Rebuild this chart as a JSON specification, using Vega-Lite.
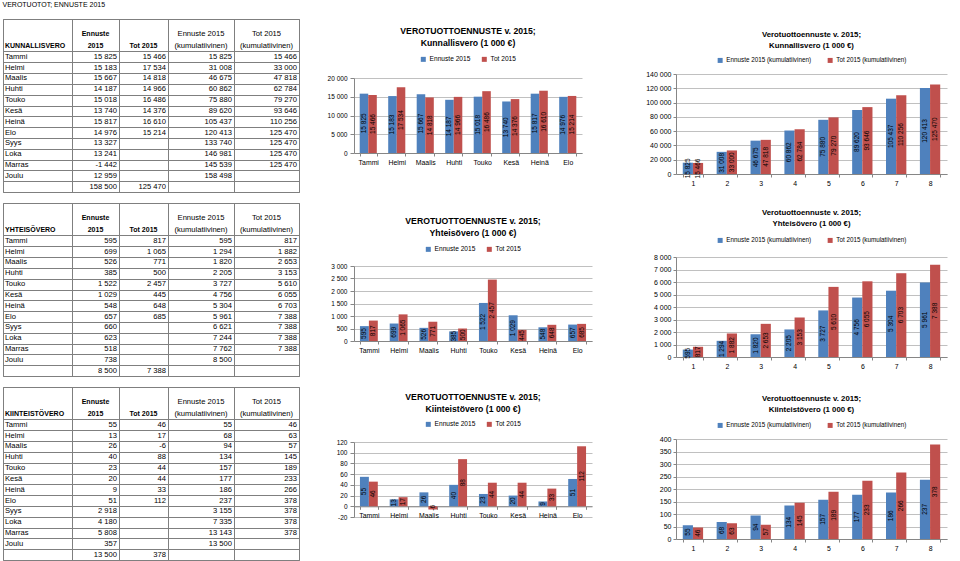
{
  "$schema": "https://vega.github.io/schema/vega-lite/v6.json",
  "padding": {"left": 2, "top": 1, "right": 2, "bottom": 0},
  "title": {"text": "VEROTUOTOT; ENNUSTE 2015", "anchor": "start", "fontSize": 7, "fontWeight": "normal", "offset": 0, "frame": "bounds"},
  "datasets": {
    "K": [
      {"r": 0, "m": "Tammi", "e": 15825, "t": 15466, "ek": 15825, "tk": 15466},
      {"r": 1, "m": "Helmi", "e": 15183, "t": 17534, "ek": 31008, "tk": 33000},
      {"r": 2, "m": "Maalis", "e": 15667, "t": 14818, "ek": 46675, "tk": 47818},
      {"r": 3, "m": "Huhti", "e": 14187, "t": 14966, "ek": 60862, "tk": 62784},
      {"r": 4, "m": "Touko", "e": 15018, "t": 16486, "ek": 75880, "tk": 79270},
      {"r": 5, "m": "Kesä", "e": 13740, "t": 14376, "ek": 89620, "tk": 93646},
      {"r": 6, "m": "Heinä", "e": 15817, "t": 16610, "ek": 105437, "tk": 110256},
      {"r": 7, "m": "Elo", "e": 14976, "t": 15214, "ek": 120413, "tk": 125470},
      {"r": 8, "m": "Syys", "e": 13327, "t": null, "ek": 133740, "tk": 125470},
      {"r": 9, "m": "Loka", "e": 13241, "t": null, "ek": 146981, "tk": 125470},
      {"r": 10, "m": "Marras", "e": -1442, "t": null, "ek": 145539, "tk": 125470},
      {"r": 11, "m": "Joulu", "e": 12959, "t": null, "ek": 158498, "tk": null},
      {"r": 12, "m": "", "e": 158500, "t": 125470, "ek": null, "tk": null}
    ],
    "Y": [
      {"r": 0, "m": "Tammi", "e": 595, "t": 817, "ek": 595, "tk": 817},
      {"r": 1, "m": "Helmi", "e": 699, "t": 1065, "ek": 1294, "tk": 1882},
      {"r": 2, "m": "Maalis", "e": 526, "t": 771, "ek": 1820, "tk": 2653},
      {"r": 3, "m": "Huhti", "e": 385, "t": 500, "ek": 2205, "tk": 3153},
      {"r": 4, "m": "Touko", "e": 1522, "t": 2457, "ek": 3727, "tk": 5610},
      {"r": 5, "m": "Kesä", "e": 1029, "t": 445, "ek": 4756, "tk": 6055},
      {"r": 6, "m": "Heinä", "e": 548, "t": 648, "ek": 5304, "tk": 6703},
      {"r": 7, "m": "Elo", "e": 657, "t": 685, "ek": 5961, "tk": 7388},
      {"r": 8, "m": "Syys", "e": 660, "t": null, "ek": 6621, "tk": 7388},
      {"r": 9, "m": "Loka", "e": 623, "t": null, "ek": 7244, "tk": 7388},
      {"r": 10, "m": "Marras", "e": 518, "t": null, "ek": 7762, "tk": 7388},
      {"r": 11, "m": "Joulu", "e": 738, "t": null, "ek": 8500, "tk": null},
      {"r": 12, "m": "", "e": 8500, "t": 7388, "ek": null, "tk": null}
    ],
    "KI": [
      {"r": 0, "m": "Tammi", "e": 55, "t": 46, "ek": 55, "tk": 46},
      {"r": 1, "m": "Helmi", "e": 13, "t": 17, "ek": 68, "tk": 63},
      {"r": 2, "m": "Maalis", "e": 26, "t": -6, "ek": 94, "tk": 57},
      {"r": 3, "m": "Huhti", "e": 40, "t": 88, "ek": 134, "tk": 145},
      {"r": 4, "m": "Touko", "e": 23, "t": 44, "ek": 157, "tk": 189},
      {"r": 5, "m": "Kesä", "e": 20, "t": 44, "ek": 177, "tk": 233},
      {"r": 6, "m": "Heinä", "e": 9, "t": 33, "ek": 186, "tk": 266},
      {"r": 7, "m": "Elo", "e": 51, "t": 112, "ek": 237, "tk": 378},
      {"r": 8, "m": "Syys", "e": 2918, "t": null, "ek": 3155, "tk": 378},
      {"r": 9, "m": "Loka", "e": 4180, "t": null, "ek": 7335, "tk": 378},
      {"r": 10, "m": "Marras", "e": 5808, "t": null, "ek": 13143, "tk": 378},
      {"r": 11, "m": "Joulu", "e": 357, "t": null, "ek": 13500, "tk": null},
      {"r": 12, "m": "", "e": 13500, "t": 378, "ek": null, "tk": null}
    ],
    "hK": [{"h": "KUNNALLISVERO"}],
    "hY": [{"h": "YHTEISÖVERO"}],
    "hKI": [{"h": "KIINTEISTÖVERO"}],
    "h1": [{"h": "Ennuste\n2015"}],
    "h2": [{"h": "Tot 2015"}],
    "h3": [{"h": "Ennuste 2015\n(kumulatiivinen)"}],
    "h4": [{"h": "Tot 2015\n(kumulatiivinen)"}],
    "none": []
  },
  "spacing": 27,
  "resolve": {"scale": {"color": "independent", "xOffset": "independent"}},
  "hconcat": [
    {
      "spacing": 9,
      "vconcat": [
        {"width": 10, "height": 1, "data": {"name": "none"}, "mark": "point", "encoding": {}},
        {
          "width": 296, "height": 173,
          "view": {"stroke": "#7f7f7f"},
          "data": {"name": "K"},
          "layer": [
            {"mark": {"type": "text", "align": "left", "baseline": "middle", "dx": 2, "dy": 5.4, "fontSize": 7.6},
             "encoding": {
               "x": {"datum": -1, "type": "quantitative", "scale": {"domain": [-1, 0, 1, 2, 3, 4], "range": [0, 69, 116, 165, 231, 296], "nice": false, "zero": false}, "axis": {"orient": "top", "values": [-1, 0, 1, 2, 3, 4], "tickCount": 100, "grid": true, "gridColor": "#7f7f7f", "gridOpacity": 1, "gridWidth": 1, "labels": false, "ticks": false, "domain": false, "title": null}},
               "y": {"field": "r", "type": "quantitative", "scale": {"domain": [-3, 13], "reverse": true, "nice": false, "zero": false}, "axis": {"values": [-3, 0, 1, 2, 3, 4, 5, 6, 7, 8, 9, 10, 11, 12, 13], "tickCount": 100, "grid": true, "gridColor": "#7f7f7f", "gridOpacity": 1, "gridWidth": 1, "labels": false, "ticks": false, "domain": false, "title": null}},
               "text": {"field": "m", "type": "nominal"}}},
            {"transform": [{"filter": "isValid(datum.e)"}], "mark": {"type": "text", "align": "right", "baseline": "middle", "dx": -2, "dy": 5.4, "fontSize": 7.6},
             "encoding": {"x": {"datum": 1, "type": "quantitative"}, "y": {"field": "r", "type": "quantitative"}, "text": {"field": "e", "type": "quantitative", "format": ",d"}}},
            {"transform": [{"filter": "isValid(datum.t)"}], "mark": {"type": "text", "align": "right", "baseline": "middle", "dx": -2, "dy": 5.4, "fontSize": 7.6},
             "encoding": {"x": {"datum": 2, "type": "quantitative"}, "y": {"field": "r", "type": "quantitative"}, "text": {"field": "t", "type": "quantitative", "format": ",d"}}},
            {"transform": [{"filter": "isValid(datum.ek)"}], "mark": {"type": "text", "align": "right", "baseline": "middle", "dx": -2, "dy": 5.4, "fontSize": 7.6},
             "encoding": {"x": {"datum": 3, "type": "quantitative"}, "y": {"field": "r", "type": "quantitative"}, "text": {"field": "ek", "type": "quantitative", "format": ",d"}}},
            {"transform": [{"filter": "isValid(datum.tk)"}], "mark": {"type": "text", "align": "right", "baseline": "middle", "dx": -2, "dy": 5.4, "fontSize": 7.6},
             "encoding": {"x": {"datum": 4, "type": "quantitative"}, "y": {"field": "r", "type": "quantitative"}, "text": {"field": "tk", "type": "quantitative", "format": ",d"}}},
            {"data": {"name": "hK"}, "mark": {"type": "text", "align": "left", "baseline": "middle", "dx": 2, "fontSize": 7, "fontWeight": "bold"},
             "encoding": {"x": {"datum": -1, "type": "quantitative"}, "y": {"datum": -0.5, "type": "quantitative"}, "text": {"field": "h", "type": "nominal"}}},
            {"data": {"name": "h1"}, "mark": {"type": "text", "align": "center", "baseline": "middle", "fontSize": 7, "fontWeight": "bold", "lineBreak": "\n", "lineHeight": 12},
             "encoding": {"x": {"datum": 0.5, "type": "quantitative"}, "y": {"datum": -1.6, "type": "quantitative"}, "text": {"field": "h", "type": "nominal"}}},
            {"data": {"name": "h2"}, "mark": {"type": "text", "align": "center", "baseline": "middle", "fontSize": 7, "fontWeight": "bold"},
             "encoding": {"x": {"datum": 1.5, "type": "quantitative"}, "y": {"datum": -0.5, "type": "quantitative"}, "text": {"field": "h", "type": "nominal"}}},
            {"data": {"name": "h3"}, "mark": {"type": "text", "align": "center", "baseline": "middle", "fontSize": 7.6, "lineBreak": "\n", "lineHeight": 12},
             "encoding": {"x": {"datum": 2.5, "type": "quantitative"}, "y": {"datum": -1.6, "type": "quantitative"}, "text": {"field": "h", "type": "nominal"}}},
            {"data": {"name": "h4"}, "mark": {"type": "text", "align": "center", "baseline": "middle", "fontSize": 7.6, "lineBreak": "\n", "lineHeight": 12},
             "encoding": {"x": {"datum": 3.5, "type": "quantitative"}, "y": {"datum": -1.6, "type": "quantitative"}, "text": {"field": "h", "type": "nominal"}}}
          ]
        },
        {
          "width": 296, "height": 173,
          "view": {"stroke": "#7f7f7f"},
          "data": {"name": "Y"},
          "layer": [
            {"mark": {"type": "text", "align": "left", "baseline": "middle", "dx": 2, "dy": 5.4, "fontSize": 7.6},
             "encoding": {
               "x": {"datum": -1, "type": "quantitative", "scale": {"domain": [-1, 0, 1, 2, 3, 4], "range": [0, 69, 116, 165, 231, 296], "nice": false, "zero": false}, "axis": {"orient": "top", "values": [-1, 0, 1, 2, 3, 4], "tickCount": 100, "grid": true, "gridColor": "#7f7f7f", "gridOpacity": 1, "gridWidth": 1, "labels": false, "ticks": false, "domain": false, "title": null}},
               "y": {"field": "r", "type": "quantitative", "scale": {"domain": [-3, 13], "reverse": true, "nice": false, "zero": false}, "axis": {"values": [-3, 0, 1, 2, 3, 4, 5, 6, 7, 8, 9, 10, 11, 12, 13], "tickCount": 100, "grid": true, "gridColor": "#7f7f7f", "gridOpacity": 1, "gridWidth": 1, "labels": false, "ticks": false, "domain": false, "title": null}},
               "text": {"field": "m", "type": "nominal"}}},
            {"transform": [{"filter": "isValid(datum.e)"}], "mark": {"type": "text", "align": "right", "baseline": "middle", "dx": -2, "dy": 5.4, "fontSize": 7.6},
             "encoding": {"x": {"datum": 1, "type": "quantitative"}, "y": {"field": "r", "type": "quantitative"}, "text": {"field": "e", "type": "quantitative", "format": ",d"}}},
            {"transform": [{"filter": "isValid(datum.t)"}], "mark": {"type": "text", "align": "right", "baseline": "middle", "dx": -2, "dy": 5.4, "fontSize": 7.6},
             "encoding": {"x": {"datum": 2, "type": "quantitative"}, "y": {"field": "r", "type": "quantitative"}, "text": {"field": "t", "type": "quantitative", "format": ",d"}}},
            {"transform": [{"filter": "isValid(datum.ek)"}], "mark": {"type": "text", "align": "right", "baseline": "middle", "dx": -2, "dy": 5.4, "fontSize": 7.6},
             "encoding": {"x": {"datum": 3, "type": "quantitative"}, "y": {"field": "r", "type": "quantitative"}, "text": {"field": "ek", "type": "quantitative", "format": ",d"}}},
            {"transform": [{"filter": "isValid(datum.tk)"}], "mark": {"type": "text", "align": "right", "baseline": "middle", "dx": -2, "dy": 5.4, "fontSize": 7.6},
             "encoding": {"x": {"datum": 4, "type": "quantitative"}, "y": {"field": "r", "type": "quantitative"}, "text": {"field": "tk", "type": "quantitative", "format": ",d"}}},
            {"data": {"name": "hY"}, "mark": {"type": "text", "align": "left", "baseline": "middle", "dx": 2, "fontSize": 7, "fontWeight": "bold"},
             "encoding": {"x": {"datum": -1, "type": "quantitative"}, "y": {"datum": -0.5, "type": "quantitative"}, "text": {"field": "h", "type": "nominal"}}},
            {"data": {"name": "h1"}, "mark": {"type": "text", "align": "center", "baseline": "middle", "fontSize": 7, "fontWeight": "bold", "lineBreak": "\n", "lineHeight": 12},
             "encoding": {"x": {"datum": 0.5, "type": "quantitative"}, "y": {"datum": -1.6, "type": "quantitative"}, "text": {"field": "h", "type": "nominal"}}},
            {"data": {"name": "h2"}, "mark": {"type": "text", "align": "center", "baseline": "middle", "fontSize": 7, "fontWeight": "bold"},
             "encoding": {"x": {"datum": 1.5, "type": "quantitative"}, "y": {"datum": -0.5, "type": "quantitative"}, "text": {"field": "h", "type": "nominal"}}},
            {"data": {"name": "h3"}, "mark": {"type": "text", "align": "center", "baseline": "middle", "fontSize": 7.6, "lineBreak": "\n", "lineHeight": 12},
             "encoding": {"x": {"datum": 2.5, "type": "quantitative"}, "y": {"datum": -1.6, "type": "quantitative"}, "text": {"field": "h", "type": "nominal"}}},
            {"data": {"name": "h4"}, "mark": {"type": "text", "align": "center", "baseline": "middle", "fontSize": 7.6, "lineBreak": "\n", "lineHeight": 12},
             "encoding": {"x": {"datum": 3.5, "type": "quantitative"}, "y": {"datum": -1.6, "type": "quantitative"}, "text": {"field": "h", "type": "nominal"}}}
          ]
        },
        {
          "width": 296, "height": 173,
          "view": {"stroke": "#7f7f7f"},
          "data": {"name": "KI"},
          "layer": [
            {"mark": {"type": "text", "align": "left", "baseline": "middle", "dx": 2, "dy": 5.4, "fontSize": 7.6},
             "encoding": {
               "x": {"datum": -1, "type": "quantitative", "scale": {"domain": [-1, 0, 1, 2, 3, 4], "range": [0, 69, 116, 165, 231, 296], "nice": false, "zero": false}, "axis": {"orient": "top", "values": [-1, 0, 1, 2, 3, 4], "tickCount": 100, "grid": true, "gridColor": "#7f7f7f", "gridOpacity": 1, "gridWidth": 1, "labels": false, "ticks": false, "domain": false, "title": null}},
               "y": {"field": "r", "type": "quantitative", "scale": {"domain": [-3, 13], "reverse": true, "nice": false, "zero": false}, "axis": {"values": [-3, 0, 1, 2, 3, 4, 5, 6, 7, 8, 9, 10, 11, 12, 13], "tickCount": 100, "grid": true, "gridColor": "#7f7f7f", "gridOpacity": 1, "gridWidth": 1, "labels": false, "ticks": false, "domain": false, "title": null}},
               "text": {"field": "m", "type": "nominal"}}},
            {"transform": [{"filter": "isValid(datum.e)"}], "mark": {"type": "text", "align": "right", "baseline": "middle", "dx": -2, "dy": 5.4, "fontSize": 7.6},
             "encoding": {"x": {"datum": 1, "type": "quantitative"}, "y": {"field": "r", "type": "quantitative"}, "text": {"field": "e", "type": "quantitative", "format": ",d"}}},
            {"transform": [{"filter": "isValid(datum.t)"}], "mark": {"type": "text", "align": "right", "baseline": "middle", "dx": -2, "dy": 5.4, "fontSize": 7.6},
             "encoding": {"x": {"datum": 2, "type": "quantitative"}, "y": {"field": "r", "type": "quantitative"}, "text": {"field": "t", "type": "quantitative", "format": ",d"}}},
            {"transform": [{"filter": "isValid(datum.ek)"}], "mark": {"type": "text", "align": "right", "baseline": "middle", "dx": -2, "dy": 5.4, "fontSize": 7.6},
             "encoding": {"x": {"datum": 3, "type": "quantitative"}, "y": {"field": "r", "type": "quantitative"}, "text": {"field": "ek", "type": "quantitative", "format": ",d"}}},
            {"transform": [{"filter": "isValid(datum.tk)"}], "mark": {"type": "text", "align": "right", "baseline": "middle", "dx": -2, "dy": 5.4, "fontSize": 7.6},
             "encoding": {"x": {"datum": 4, "type": "quantitative"}, "y": {"field": "r", "type": "quantitative"}, "text": {"field": "tk", "type": "quantitative", "format": ",d"}}},
            {"data": {"name": "hKI"}, "mark": {"type": "text", "align": "left", "baseline": "middle", "dx": 2, "fontSize": 7, "fontWeight": "bold"},
             "encoding": {"x": {"datum": -1, "type": "quantitative"}, "y": {"datum": -0.5, "type": "quantitative"}, "text": {"field": "h", "type": "nominal"}}},
            {"data": {"name": "h1"}, "mark": {"type": "text", "align": "center", "baseline": "middle", "fontSize": 7, "fontWeight": "bold", "lineBreak": "\n", "lineHeight": 12},
             "encoding": {"x": {"datum": 0.5, "type": "quantitative"}, "y": {"datum": -1.6, "type": "quantitative"}, "text": {"field": "h", "type": "nominal"}}},
            {"data": {"name": "h2"}, "mark": {"type": "text", "align": "center", "baseline": "middle", "fontSize": 7, "fontWeight": "bold"},
             "encoding": {"x": {"datum": 1.5, "type": "quantitative"}, "y": {"datum": -0.5, "type": "quantitative"}, "text": {"field": "h", "type": "nominal"}}},
            {"data": {"name": "h3"}, "mark": {"type": "text", "align": "center", "baseline": "middle", "fontSize": 7.6, "lineBreak": "\n", "lineHeight": 12},
             "encoding": {"x": {"datum": 2.5, "type": "quantitative"}, "y": {"datum": -1.6, "type": "quantitative"}, "text": {"field": "h", "type": "nominal"}}},
            {"data": {"name": "h4"}, "mark": {"type": "text", "align": "center", "baseline": "middle", "fontSize": 7.6, "lineBreak": "\n", "lineHeight": 12},
             "encoding": {"x": {"datum": 3.5, "type": "quantitative"}, "y": {"datum": -1.6, "type": "quantitative"}, "text": {"field": "h", "type": "nominal"}}}
          ]
        }
      ]
    },
    {
      "spacing": 53,
      "resolve": {"scale": {"color": "independent", "xOffset": "independent"}},
      "hconcat": [
        {
          "spacing": 52,
          "resolve": {"scale": {"color": "independent", "xOffset": "independent"}},
          "vconcat": [
            {
              "spacing": 18,
              "resolve": {"scale": {"color": "independent", "xOffset": "independent"}},
              "vconcat": [
                {"width": 10, "height": 1, "data": {"name": "none"}, "mark": "point", "encoding": {}},
                {
                  "width": 228, "height": 75,
                  "data": {"name": "K"},
                  "transform": [{"filter": "datum.r < 8"}, {"fold": ["e", "t"], "as": ["s", "v"]}, {"calculate": "datum.v / 2", "as": "mid"}],
                  "title": {"text": ["VEROTUOTTOENNUSTE v. 2015;", "Kunnallisvero (1 000 €)"], "fontSize": 8.7, "lineHeight": 12, "offset": 8, "frame": "group"},
                  "encoding": {
                    "x": {"field": "m", "type": "nominal", "sort": ["Tammi", "Helmi", "Maalis", "Huhti", "Touko", "Kesä", "Heinä", "Elo"], "scale": {"paddingInner": 0.4, "paddingOuter": 0.2}, "axis": {"title": null, "labelAngle": 0, "labelFontSize": 6.9, "tickSize": 3, "labelPadding": 3, "tickBand": "extent"}},
                    "xOffset": {"field": "s", "type": "nominal", "sort": ["e", "t"]}
                  },
                  "layer": [
                    {"mark": {"type": "bar"}, "encoding": {
                      "y": {"field": "v", "type": "quantitative", "scale": {"domain": [0, 20000]}, "axis": {"title": "1 000 €", "titleFontSize": 7, "titlePadding": 4, "values": [0, 5000, 10000, 15000, 20000], "tickCount": 100, "format": ",d", "labelFontSize": 6.5, "tickSize": 4, "labelPadding": 3, "grid": true}},
                      "color": {"field": "s", "type": "nominal", "scale": {"domain": ["e", "t"], "range": ["#4F81BD", "#C0504D"]}, "legend": {"orient": "top", "direction": "horizontal", "title": null, "offset": 15, "labelExpr": "datum.label == 'e' ? 'Ennuste 2015' : 'Tot 2015'", "labelFontSize": 6.6, "symbolSize": 25, "columnPadding": 10, "labelOffset": 3}}}},
                    {"mark": {"type": "text", "angle": 270, "fontSize": 6.5, "baseline": "middle"}, "encoding": {"y": {"field": "mid", "type": "quantitative", "title": null}, "text": {"field": "v", "type": "quantitative", "format": ",d"}}}
                  ]
                }
              ]
            },
            {
              "spacing": 40,
              "resolve": {"scale": {"color": "independent", "xOffset": "independent"}},
              "vconcat": [
                {
                  "width": 238, "height": 75,
                  "data": {"name": "Y"},
                  "transform": [{"filter": "datum.r < 8"}, {"fold": ["e", "t"], "as": ["s", "v"]}, {"calculate": "datum.v / 2", "as": "mid"}],
                  "title": {"text": ["VEROTUOTTOENNUSTE v. 2015;", "Yhteisövero (1 000 €)"], "fontSize": 8.7, "lineHeight": 12, "offset": 8, "frame": "group"},
                  "encoding": {
                    "x": {"field": "m", "type": "nominal", "sort": ["Tammi", "Helmi", "Maalis", "Huhti", "Touko", "Kesä", "Heinä", "Elo"], "scale": {"paddingInner": 0.4, "paddingOuter": 0.2}, "axis": {"title": null, "labelAngle": 0, "labelFontSize": 6.9, "tickSize": 3, "labelPadding": 3, "tickBand": "extent"}},
                    "xOffset": {"field": "s", "type": "nominal", "sort": ["e", "t"]}
                  },
                  "layer": [
                    {"mark": {"type": "bar"}, "encoding": {
                      "y": {"field": "v", "type": "quantitative", "scale": {"domain": [0, 3000]}, "axis": {"title": "1 000 €", "titleFontSize": 7, "titlePadding": 4, "values": [0, 500, 1000, 1500, 2000, 2500, 3000], "tickCount": 100, "format": ",d", "labelFontSize": 6.5, "tickSize": 4, "labelPadding": 3, "grid": true}},
                      "color": {"field": "s", "type": "nominal", "scale": {"domain": ["e", "t"], "range": ["#4F81BD", "#C0504D"]}, "legend": {"orient": "top", "direction": "horizontal", "title": null, "offset": 13, "labelExpr": "datum.label == 'e' ? 'Ennuste 2015' : 'Tot 2015'", "labelFontSize": 6.6, "symbolSize": 25, "columnPadding": 10, "labelOffset": 3}}}},
                    {"mark": {"type": "text", "angle": 270, "fontSize": 6.5, "baseline": "middle"}, "encoding": {"y": {"field": "mid", "type": "quantitative", "title": null}, "text": {"field": "v", "type": "quantitative", "format": ",d"}}}
                  ]
                },
                {
                  "width": 238, "height": 75,
                  "data": {"name": "KI"},
                  "transform": [{"filter": "datum.r < 8"}, {"fold": ["e", "t"], "as": ["s", "v"]}, {"calculate": "datum.v / 2", "as": "mid"}],
                  "title": {"text": ["VEROTUOTTOENNUSTE v. 2015;", "Kiinteistövero (1 000 €)"], "fontSize": 8.7, "lineHeight": 12, "offset": 7, "frame": "group"},
                  "encoding": {
                    "x": {"field": "m", "type": "nominal", "sort": ["Tammi", "Helmi", "Maalis", "Huhti", "Touko", "Kesä", "Heinä", "Elo"], "scale": {"paddingInner": 0.4, "paddingOuter": 0.2}, "axis": {"title": null, "labelAngle": 0, "labelFontSize": 6.9, "tickSize": 3, "labelPadding": 3, "tickBand": "extent", "offset": -10.7}},
                    "xOffset": {"field": "s", "type": "nominal", "sort": ["e", "t"]}
                  },
                  "layer": [
                    {"mark": {"type": "bar"}, "encoding": {
                      "y": {"field": "v", "type": "quantitative", "scale": {"domain": [-20, 120]}, "axis": {"title": "1 000 €", "titleFontSize": 7, "titlePadding": 4, "values": [-20, 0, 20, 40, 60, 80, 100, 120], "tickCount": 100, "format": ",d", "labelFontSize": 6.5, "tickSize": 4, "labelPadding": 3, "grid": true}},
                      "color": {"field": "s", "type": "nominal", "scale": {"domain": ["e", "t"], "range": ["#4F81BD", "#C0504D"]}, "legend": {"orient": "top", "direction": "horizontal", "title": null, "offset": 14, "labelExpr": "datum.label == 'e' ? 'Ennuste 2015' : 'Tot 2015'", "labelFontSize": 6.6, "symbolSize": 25, "columnPadding": 10, "labelOffset": 3}}}},
                    {"mark": {"type": "text", "angle": 270, "fontSize": 6.5, "baseline": "middle"}, "encoding": {"y": {"field": "mid", "type": "quantitative", "title": null}, "text": {"field": "v", "type": "quantitative", "format": ",d"}}}
                  ]
                }
              ]
            }
          ]
        },
        {
          "spacing": 23,
          "resolve": {"scale": {"color": "independent", "xOffset": "independent"}},
          "vconcat": [
            {
              "spacing": 22,
              "resolve": {"scale": {"color": "independent", "xOffset": "independent"}},
              "vconcat": [
                {"width": 10, "height": 1, "data": {"name": "none"}, "mark": "point", "encoding": {}},
                {
                  "width": 271, "height": 100,
                  "data": {"name": "K"},
                  "transform": [{"filter": "datum.r < 8"}, {"fold": ["ek", "tk"], "as": ["s", "v"]}, {"calculate": "datum.v / 2", "as": "mid"}],
                  "title": {"text": ["Verotuottoennuste v. 2015;", "Kunnallisvero (1 000 €)"], "fontSize": 7.8, "lineHeight": 11, "offset": 7, "frame": "group"},
                  "encoding": {
                    "x": {"field": "r", "type": "ordinal", "scale": {"paddingInner": 0.4, "paddingOuter": 0.2}, "axis": {"title": null, "labelAngle": 0, "labelFontSize": 6.9, "tickSize": 3, "labelPadding": 3, "tickBand": "extent", "labelExpr": "isValid(datum.value) ? toString(datum.value + 1) : ''"}},
                    "xOffset": {"field": "s", "type": "nominal", "sort": ["ek", "tk"]}
                  },
                  "layer": [
                    {"mark": {"type": "bar"}, "encoding": {
                      "y": {"field": "v", "type": "quantitative", "scale": {"domain": [0, 140000]}, "axis": {"title": null, "values": [0, 20000, 40000, 60000, 80000, 100000, 120000, 140000], "tickCount": 100, "format": ",d", "labelFontSize": 7, "tickSize": 3, "labelPadding": 2, "grid": true}},
                      "color": {"field": "s", "type": "nominal", "scale": {"domain": ["ek", "tk"], "range": ["#4F81BD", "#C0504D"]}, "legend": {"orient": "top", "direction": "horizontal", "title": null, "offset": 10, "labelExpr": "datum.label == 'ek' ? 'Ennuste 2015 (kumulatiivinen)' : 'Tot 2015 (kumulatiivinen)'", "labelFontSize": 6.3, "symbolSize": 25, "columnPadding": 15, "labelOffset": 3}}}},
                    {"mark": {"type": "text", "angle": 270, "fontSize": 6.5, "baseline": "middle"}, "encoding": {"y": {"field": "mid", "type": "quantitative", "title": null}, "text": {"field": "v", "type": "quantitative", "format": ",d"}}}
                  ]
                }
              ]
            },
            {
              "spacing": 26,
              "resolve": {"scale": {"color": "independent", "xOffset": "independent"}},
              "vconcat": [
                {
                  "width": 271, "height": 100,
                  "data": {"name": "Y"},
                  "transform": [{"filter": "datum.r < 8"}, {"fold": ["ek", "tk"], "as": ["s", "v"]}, {"calculate": "datum.v / 2", "as": "mid"}],
                  "title": {"text": ["Verotuottoennuste v. 2015;", "Yhteisövero (1 000 €)"], "fontSize": 7.8, "lineHeight": 11, "offset": 9, "frame": "group"},
                  "encoding": {
                    "x": {"field": "r", "type": "ordinal", "scale": {"paddingInner": 0.4, "paddingOuter": 0.2}, "axis": {"title": null, "labelAngle": 0, "labelFontSize": 6.9, "tickSize": 3, "labelPadding": 3, "tickBand": "extent", "labelExpr": "isValid(datum.value) ? toString(datum.value + 1) : ''"}},
                    "xOffset": {"field": "s", "type": "nominal", "sort": ["ek", "tk"]}
                  },
                  "layer": [
                    {"mark": {"type": "bar"}, "encoding": {
                      "y": {"field": "v", "type": "quantitative", "scale": {"domain": [0, 8000]}, "axis": {"title": null, "values": [0, 1000, 2000, 3000, 4000, 5000, 6000, 7000, 8000], "tickCount": 100, "format": ",d", "labelFontSize": 7, "tickSize": 3, "labelPadding": 2, "grid": true}},
                      "color": {"field": "s", "type": "nominal", "scale": {"domain": ["ek", "tk"], "range": ["#4F81BD", "#C0504D"]}, "legend": {"orient": "top", "direction": "horizontal", "title": null, "offset": 13, "labelExpr": "datum.label == 'ek' ? 'Ennuste 2015 (kumulatiivinen)' : 'Tot 2015 (kumulatiivinen)'", "labelFontSize": 6.3, "symbolSize": 25, "columnPadding": 15, "labelOffset": 3}}}},
                    {"mark": {"type": "text", "angle": 270, "fontSize": 6.5, "baseline": "middle"}, "encoding": {"y": {"field": "mid", "type": "quantitative", "title": null}, "text": {"field": "v", "type": "quantitative", "format": ",d"}}}
                  ]
                },
                {
                  "width": 271, "height": 100,
                  "data": {"name": "KI"},
                  "transform": [{"filter": "datum.r < 8"}, {"fold": ["ek", "tk"], "as": ["s", "v"]}, {"calculate": "datum.v / 2", "as": "mid"}],
                  "title": {"text": ["Verotuottoennuste v. 2015;", "Kiinteistövero (1 000 €)"], "fontSize": 7.8, "lineHeight": 11, "offset": 8, "frame": "group"},
                  "encoding": {
                    "x": {"field": "r", "type": "ordinal", "scale": {"paddingInner": 0.4, "paddingOuter": 0.2}, "axis": {"title": null, "labelAngle": 0, "labelFontSize": 6.9, "tickSize": 3, "labelPadding": 3, "tickBand": "extent", "labelExpr": "isValid(datum.value) ? toString(datum.value + 1) : ''"}},
                    "xOffset": {"field": "s", "type": "nominal", "sort": ["ek", "tk"]}
                  },
                  "layer": [
                    {"mark": {"type": "bar"}, "encoding": {
                      "y": {"field": "v", "type": "quantitative", "scale": {"domain": [0, 400]}, "axis": {"title": null, "values": [0, 50, 100, 150, 200, 250, 300, 350, 400], "tickCount": 100, "format": ",d", "labelFontSize": 7, "tickSize": 3, "labelPadding": 2, "grid": true}},
                      "color": {"field": "s", "type": "nominal", "scale": {"domain": ["ek", "tk"], "range": ["#4F81BD", "#C0504D"]}, "legend": {"orient": "top", "direction": "horizontal", "title": null, "offset": 10, "labelExpr": "datum.label == 'ek' ? 'Ennuste 2015 (kumulatiivinen)' : 'Tot 2015 (kumulatiivinen)'", "labelFontSize": 6.3, "symbolSize": 25, "columnPadding": 15, "labelOffset": 3}}}},
                    {"mark": {"type": "text", "angle": 270, "fontSize": 6.5, "baseline": "middle"}, "encoding": {"y": {"field": "mid", "type": "quantitative", "title": null}, "text": {"field": "v", "type": "quantitative", "format": ",d"}}}
                  ]
                }
              ]
            }
          ]
        }
      ]
    }
  ],
  "config": {
    "font": "Liberation Sans",
    "view": {"stroke": null},
    "locale": {"number": {"decimal": ",", "thousands": " ", "grouping": [3], "currency": ["", " €"], "minus": "-"}},
    "axis": {"labelColor": "#000000", "titleColor": "#000000", "domainColor": "#868686", "tickColor": "#868686", "gridColor": "#b0b0b0", "gridWidth": 0.8, "labelFont": "Liberation Sans", "titleFont": "Liberation Sans"},
    "title": {"color": "#000000", "font": "Liberation Sans", "fontWeight": "bold"},
    "legend": {"labelColor": "#000000", "labelFont": "Liberation Sans", "symbolType": "square", "symbolStrokeWidth": 0, "layout": {"top": {"anchor": "middle"}}},
    "text": {"color": "#000000", "font": "Liberation Sans"}
  }
}
